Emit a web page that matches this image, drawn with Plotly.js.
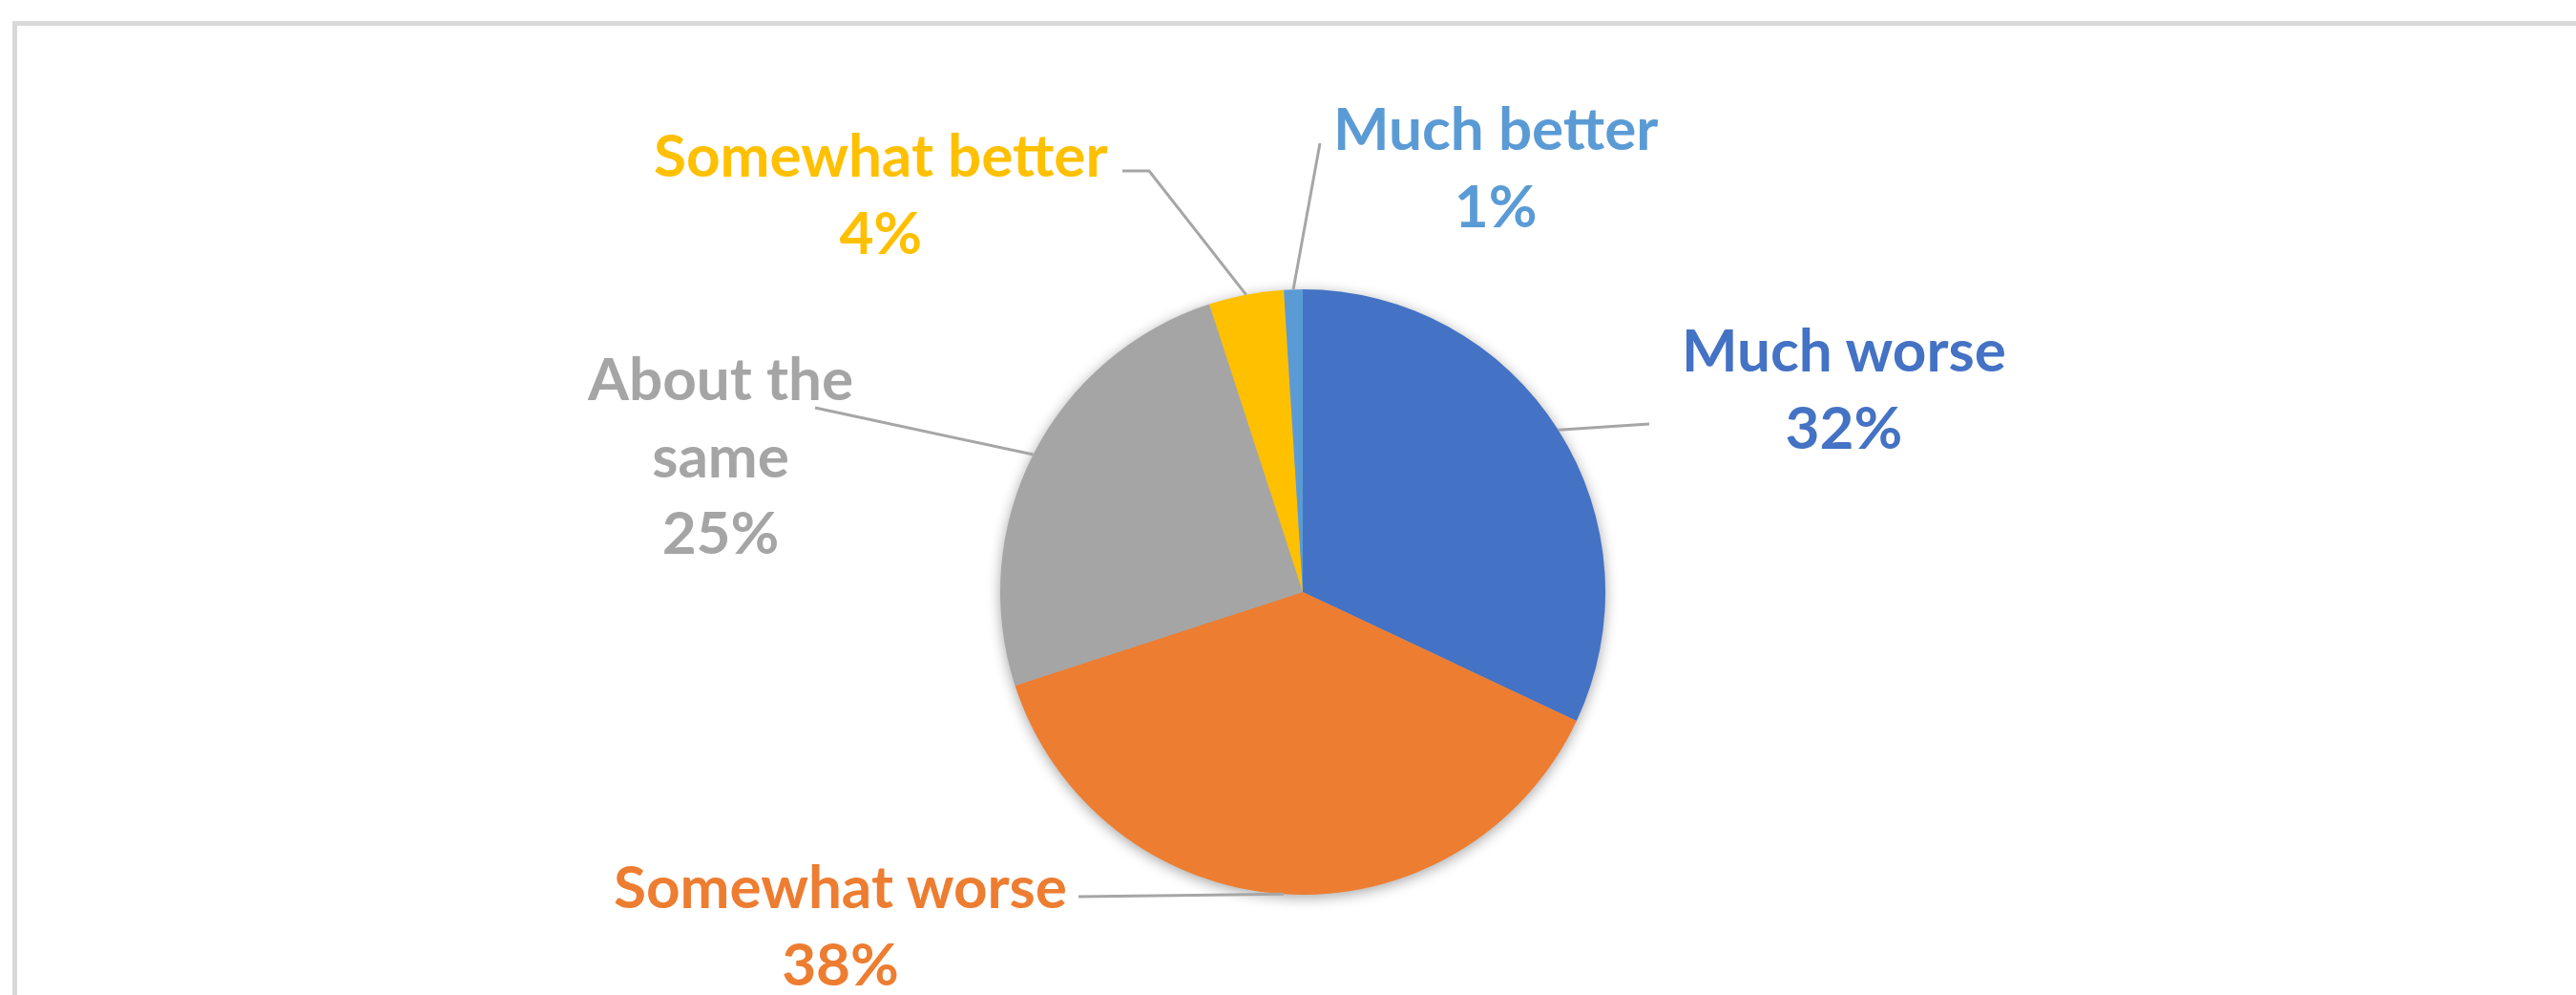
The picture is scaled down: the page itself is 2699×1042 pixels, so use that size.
<!DOCTYPE html>
<html>
<head>
<meta charset="utf-8">
<script src="https://cdn.plot.ly/plotly-3.0.1.min.js"></script>
<style>
  html, body { margin: 0; padding: 0; background: #ffffff; }
  #chart { width: 2699px; height: 1042px; }
  .pielayer { filter: drop-shadow(0px 3px 7px rgba(0,0,0,0.35)); }
</style>
</head>
<body>
<div id="chart"></div>
<script>
// ---- data ----
const categories = ['Much worse', 'Somewhat worse', 'About the same', 'Somewhat better', 'Much better'];
const values = [32, 38, 25, 4, 1];
const labelLines = ['Much worse', 'Somewhat worse', 'About the<br>same', 'Somewhat better', 'Much better'];
const colors = ['#4472C4', '#ED7D31', '#A5A5A5', '#FFC000', '#5B9BD5'];

// ---- layout geometry (pixels) ----
const W = 2699, H = 1042;
const cx = 1365, cy = 620, R = 317;
const px = v => v / W;
const py = v => 1 - v / H;

// label centres and leader elbows (layout only)
const labelPos = [
  {x: 1932, y: 406, elbow: [[1728, 444]]},
  {x: 880,  y: 967, elbow: [[1130, 939]]},
  {x: 754,  y: 475, elbow: [[854, 427]]},
  {x: 923,  y: 201, elbow: [[1204, 179], [1176, 179]]},
  {x: 1567, y: 173, elbow: [[1383, 150]]}
];

const total = values.reduce((a, b) => a + b, 0);
let cum = 0;
const annotations = [];
const shapes = [];

values.forEach((v, i) => {
  const mid = 2 * Math.PI * (cum + v / 2) / total;
  cum += v;
  const ex = cx + R * Math.sin(mid);
  const ey = cy - R * Math.cos(mid);
  const pct = Math.round(v / total * 100) + '%';
  annotations.push({
    xref: 'paper', yref: 'paper',
    x: px(labelPos[i].x), y: py(labelPos[i].y),
    xanchor: 'center', yanchor: 'middle',
    text: labelLines[i] + '<br>' + pct,
    showarrow: false,
    align: 'center',
    font: {family: 'Lato, "Open Sans", sans-serif', size: 62, weight: 700, color: colors[i]}
  });
  let path = 'M ' + px(ex) + ' ' + py(ey);
  labelPos[i].elbow.forEach(p => { path += ' L ' + px(p[0]) + ' ' + py(p[1]); });
  shapes.push({
    type: 'path', xref: 'paper', yref: 'paper', path: path,
    line: {color: '#A6A6A6', width: 3}
  });
});

// chart area border
shapes.push({
  type: 'rect', xref: 'paper', yref: 'paper',
  x0: px(15.5), x1: px(2740), y0: py(24.5), y1: py(1080),
  line: {color: '#D9D9D9', width: 5}, fillcolor: 'rgba(0,0,0,0)', layer: 'below'
});

const trace = {
  type: 'pie',
  labels: categories,
  values: values,
  sort: false,
  direction: 'clockwise',
  rotation: 0,
  textinfo: 'none',
  hoverinfo: 'label+percent',
  marker: {colors: colors, line: {width: 0}},
  showlegend: false,
  domain: {x: [px(cx - R), px(cx + R)], y: [py(cy + R), py(cy - R)]}
};

const layout = {
  width: W, height: H,
  margin: {l: 0, r: 0, t: 0, b: 0},
  paper_bgcolor: '#ffffff',
  plot_bgcolor: '#ffffff',
  showlegend: false,
  annotations: annotations,
  shapes: shapes
};

Plotly.newPlot('chart', [trace], layout, {displayModeBar: false, staticPlot: true});
</script>
</body>
</html>
